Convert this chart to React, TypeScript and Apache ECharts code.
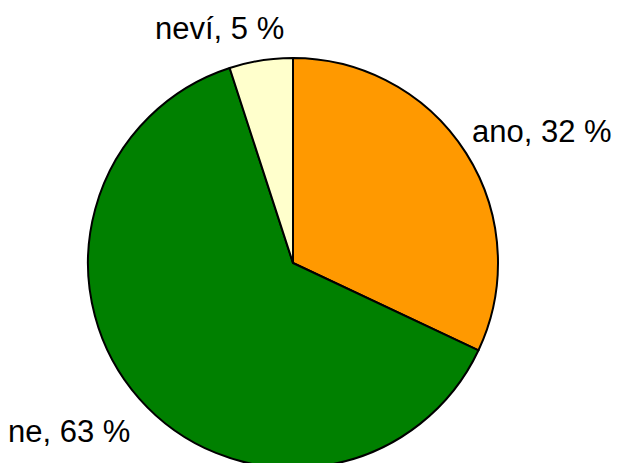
import React, { useEffect, useRef } from "react";
import * as echarts from "echarts";

const categories = ["ano", "ne", "neví"];
const values = [32, 63, 5];
const colors = ["#FF9900", "#008000", "#FFFFCC"];

export default function App() {
  const ref = useRef<HTMLDivElement>(null);
  useEffect(() => {
    if (!ref.current) return;
    const chart = echarts.init(ref.current, null, { renderer: "svg" });
    const labelPos: Record<string, [number, number]> = {
      ano: [472, 131.5],
      ne: [8, 431.5],
      "neví": [155, 28.5],
    };
    const texts = categories.map((c, i) => ({
      type: "text",
      x: labelPos[c][0],
      y: labelPos[c][1],
      style: {
        text: `${c}, ${values[i]} %`,
        fontFamily: "Liberation Sans, Arial, sans-serif",
        fontSize: 31,
        fill: "#000",
        textVerticalAlign: "middle",
        textAlign: "left",
      },
    }));
    chart.setOption({
      animation: false,
      backgroundColor: "#fff",
      graphic: texts,
      series: [
        {
          type: "pie",
          center: [293, 263],
          radius: 205,
          startAngle: 90,
          clockwise: true,
          label: { show: false },
          labelLine: { show: false },
          itemStyle: { borderColor: "#000", borderWidth: 2 },
          emphasis: { disabled: true },
          data: categories.map((c, i) => ({
            name: c,
            value: values[i],
            itemStyle: { color: colors[i] },
          })),
        },
      ],
    });
    return () => chart.dispose();
  }, []);
  return (
    <div
      ref={ref}
      style={{ position: "fixed", left: 0, top: 0, width: 621, height: 463 }}
    />
  );
}
